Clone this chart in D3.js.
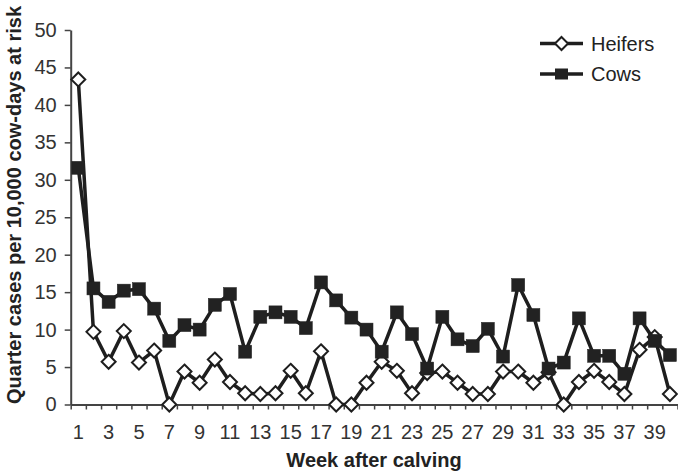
<!DOCTYPE html>
<html>
<head>
<meta charset="utf-8">
<script src="https://cdn.jsdelivr.net/npm/d3@7"></script>
<style>
  html, body { margin: 0; padding: 0; background: #fff; }
  svg { display: block; }
  text { font-family: "Liberation Sans", Arial, sans-serif; }
</style>
</head>
<body>
<svg id="chart" width="678" height="474"></svg>
<script>
// ---- data ----
const weeks = d3.range(1, 41);
const heifers = [43.4, 9.7, 5.7, 9.8, 5.6, 7.2, 0, 4.4, 2.9, 6.0,
                 3.0, 1.5, 1.4, 1.5, 4.5, 1.5, 7.1, 0, 0, 2.9,
                 5.7, 4.5, 1.5, 4.2, 4.4, 2.9, 1.4, 1.4, 4.4, 4.4,
                 2.9, 4.3, 0, 3.0, 4.5, 3.0, 1.4, 7.3, 9.0, 1.4];
const cows = [31.6, 15.5, 13.7, 15.2, 15.4, 12.8, 8.5, 10.6, 10.0, 13.3,
              14.75, 7.05, 11.7, 12.3, 11.7, 10.2, 16.3, 13.9, 11.6, 10.0,
              7.05, 12.3, 9.4, 4.8, 11.7, 8.7, 7.8, 10.1, 6.4, 15.95,
              11.95, 4.8, 5.6, 11.5, 6.5, 6.5, 4.1, 11.5, 8.5, 6.6];
const yTicks = [0, 5, 10, 15, 20, 25, 30, 35, 40, 45, 50];
const xLabels = weeks.filter(w => w % 2 === 1);
const seriesNames = ["Heifers", "Cows"];
const yTitle = "Quarter cases per 10,000 cow-days at risk";
const xTitle = "Week after calving";

// ---- layout ----
const svg = d3.select("#chart");
const plotL = 70.7, plotR = 677.5, plotT = 30, plotB = 404.5;
const ink = "#1e1e1e";

const x = d3.scaleBand().domain(weeks).range([plotL, plotR]).padding(0);
const xc = w => x(w) + x.bandwidth() / 2;
const xEdge = d3.scaleLinear().domain([0, 40]).range([plotL, plotR]);
const y = d3.scaleLinear().domain([0, 50]).range([plotB, plotT]);

// y axis
const yAxis = svg.append("g")
  .attr("transform", `translate(${plotL},0)`)
  .call(d3.axisLeft(y).tickValues(yTicks).tickSize(6).tickPadding(8).tickSizeOuter(0));
yAxis.select(".domain").attr("stroke", "#444").attr("stroke-width", 2);
yAxis.selectAll(".tick line").attr("stroke", "#444").attr("stroke-width", 1.5);
yAxis.selectAll("text").attr("font-size", 20).attr("fill", "#333")
  .attr("font-family", "Liberation Sans, Arial, sans-serif");

// x axis: ticks at category boundaries
const xTickAxis = svg.append("g")
  .attr("transform", `translate(0,${plotB})`)
  .call(d3.axisBottom(xEdge).tickValues(d3.range(0, 41)).tickSize(5).tickSizeOuter(0).tickFormat(""));
xTickAxis.select(".domain").attr("stroke", "#444").attr("stroke-width", 2);
xTickAxis.selectAll(".tick line").attr("stroke", "#444").attr("stroke-width", 1.5);

// x labels centred on categories
const xLabAxis = svg.append("g")
  .attr("transform", `translate(0,${plotB})`)
  .call(d3.axisBottom(x).tickValues(xLabels).tickSize(0).tickPadding(20));
xLabAxis.select(".domain").remove();
xLabAxis.selectAll("text").attr("font-size", 20).attr("fill", "#333")
  .attr("font-family", "Liberation Sans, Arial, sans-serif");

// titles
svg.append("text")
  .attr("x", (283 + 465) / 2).attr("y", 467)
  .attr("text-anchor", "middle")
  .attr("font-size", 20).attr("font-weight", "bold").attr("fill", "#222")
  .text(xTitle);
svg.append("text")
  .attr("transform", `translate(21,205) rotate(-90)`)
  .attr("text-anchor", "middle")
  .attr("font-size", 20).attr("font-weight", "bold").attr("fill", "#222")
  .text(yTitle);

// series
const line = d3.line().x((d, i) => xc(weeks[i])).y(d => y(d));
const diamond = (cx, cy, r) => `M${cx},${cy - r}L${cx + r},${cy}L${cx},${cy + r}L${cx - r},${cy}Z`;

function drawSeries(vals, kind) {
  const g = svg.append("g");
  g.append("path").datum(vals).attr("d", line)
    .attr("fill", "none").attr("stroke", ink).attr("stroke-width", 3.5)
    .attr("stroke-linejoin", "miter");
  if (kind === "diamond") {
    g.selectAll("path.m").data(vals).enter().append("path").attr("class", "m")
      .attr("d", (d, i) => diamond(xc(weeks[i]), y(d), 7))
      .attr("fill", "#fff").attr("stroke", ink).attr("stroke-width", 2);
  } else {
    g.selectAll("rect.m").data(vals).enter().append("rect").attr("class", "m")
      .attr("x", (d, i) => xc(weeks[i]) - 6.5).attr("y", d => y(d) - 6.5)
      .attr("width", 13).attr("height", 13)
      .attr("fill", "#222").attr("stroke", "#222").attr("stroke-width", 0.5);
  }
}
drawSeries(heifers, "diamond");
drawSeries(cows, "square");

// legend
const lg = svg.append("g");
const legendRows = [{name: seriesNames[0], kind: "diamond", ly: 43.5},
                    {name: seriesNames[1], kind: "square", ly: 74}];
legendRows.forEach(r => {
  lg.append("line").attr("x1", 540).attr("x2", 583).attr("y1", r.ly).attr("y2", r.ly)
    .attr("stroke", ink).attr("stroke-width", 3.5);
  if (r.kind === "diamond") {
    lg.append("path").attr("d", diamond(561.5, r.ly, 6.5))
      .attr("fill", "#fff").attr("stroke", ink).attr("stroke-width", 2);
  } else {
    lg.append("rect").attr("x", 555).attr("y", r.ly - 5.5).attr("width", 13).attr("height", 11)
      .attr("fill", "#222");
  }
  lg.append("text").attr("x", 591).attr("y", r.ly + 7)
    .attr("font-size", 20).attr("fill", "#222").text(r.name);
});
</script>
</body>
</html>
